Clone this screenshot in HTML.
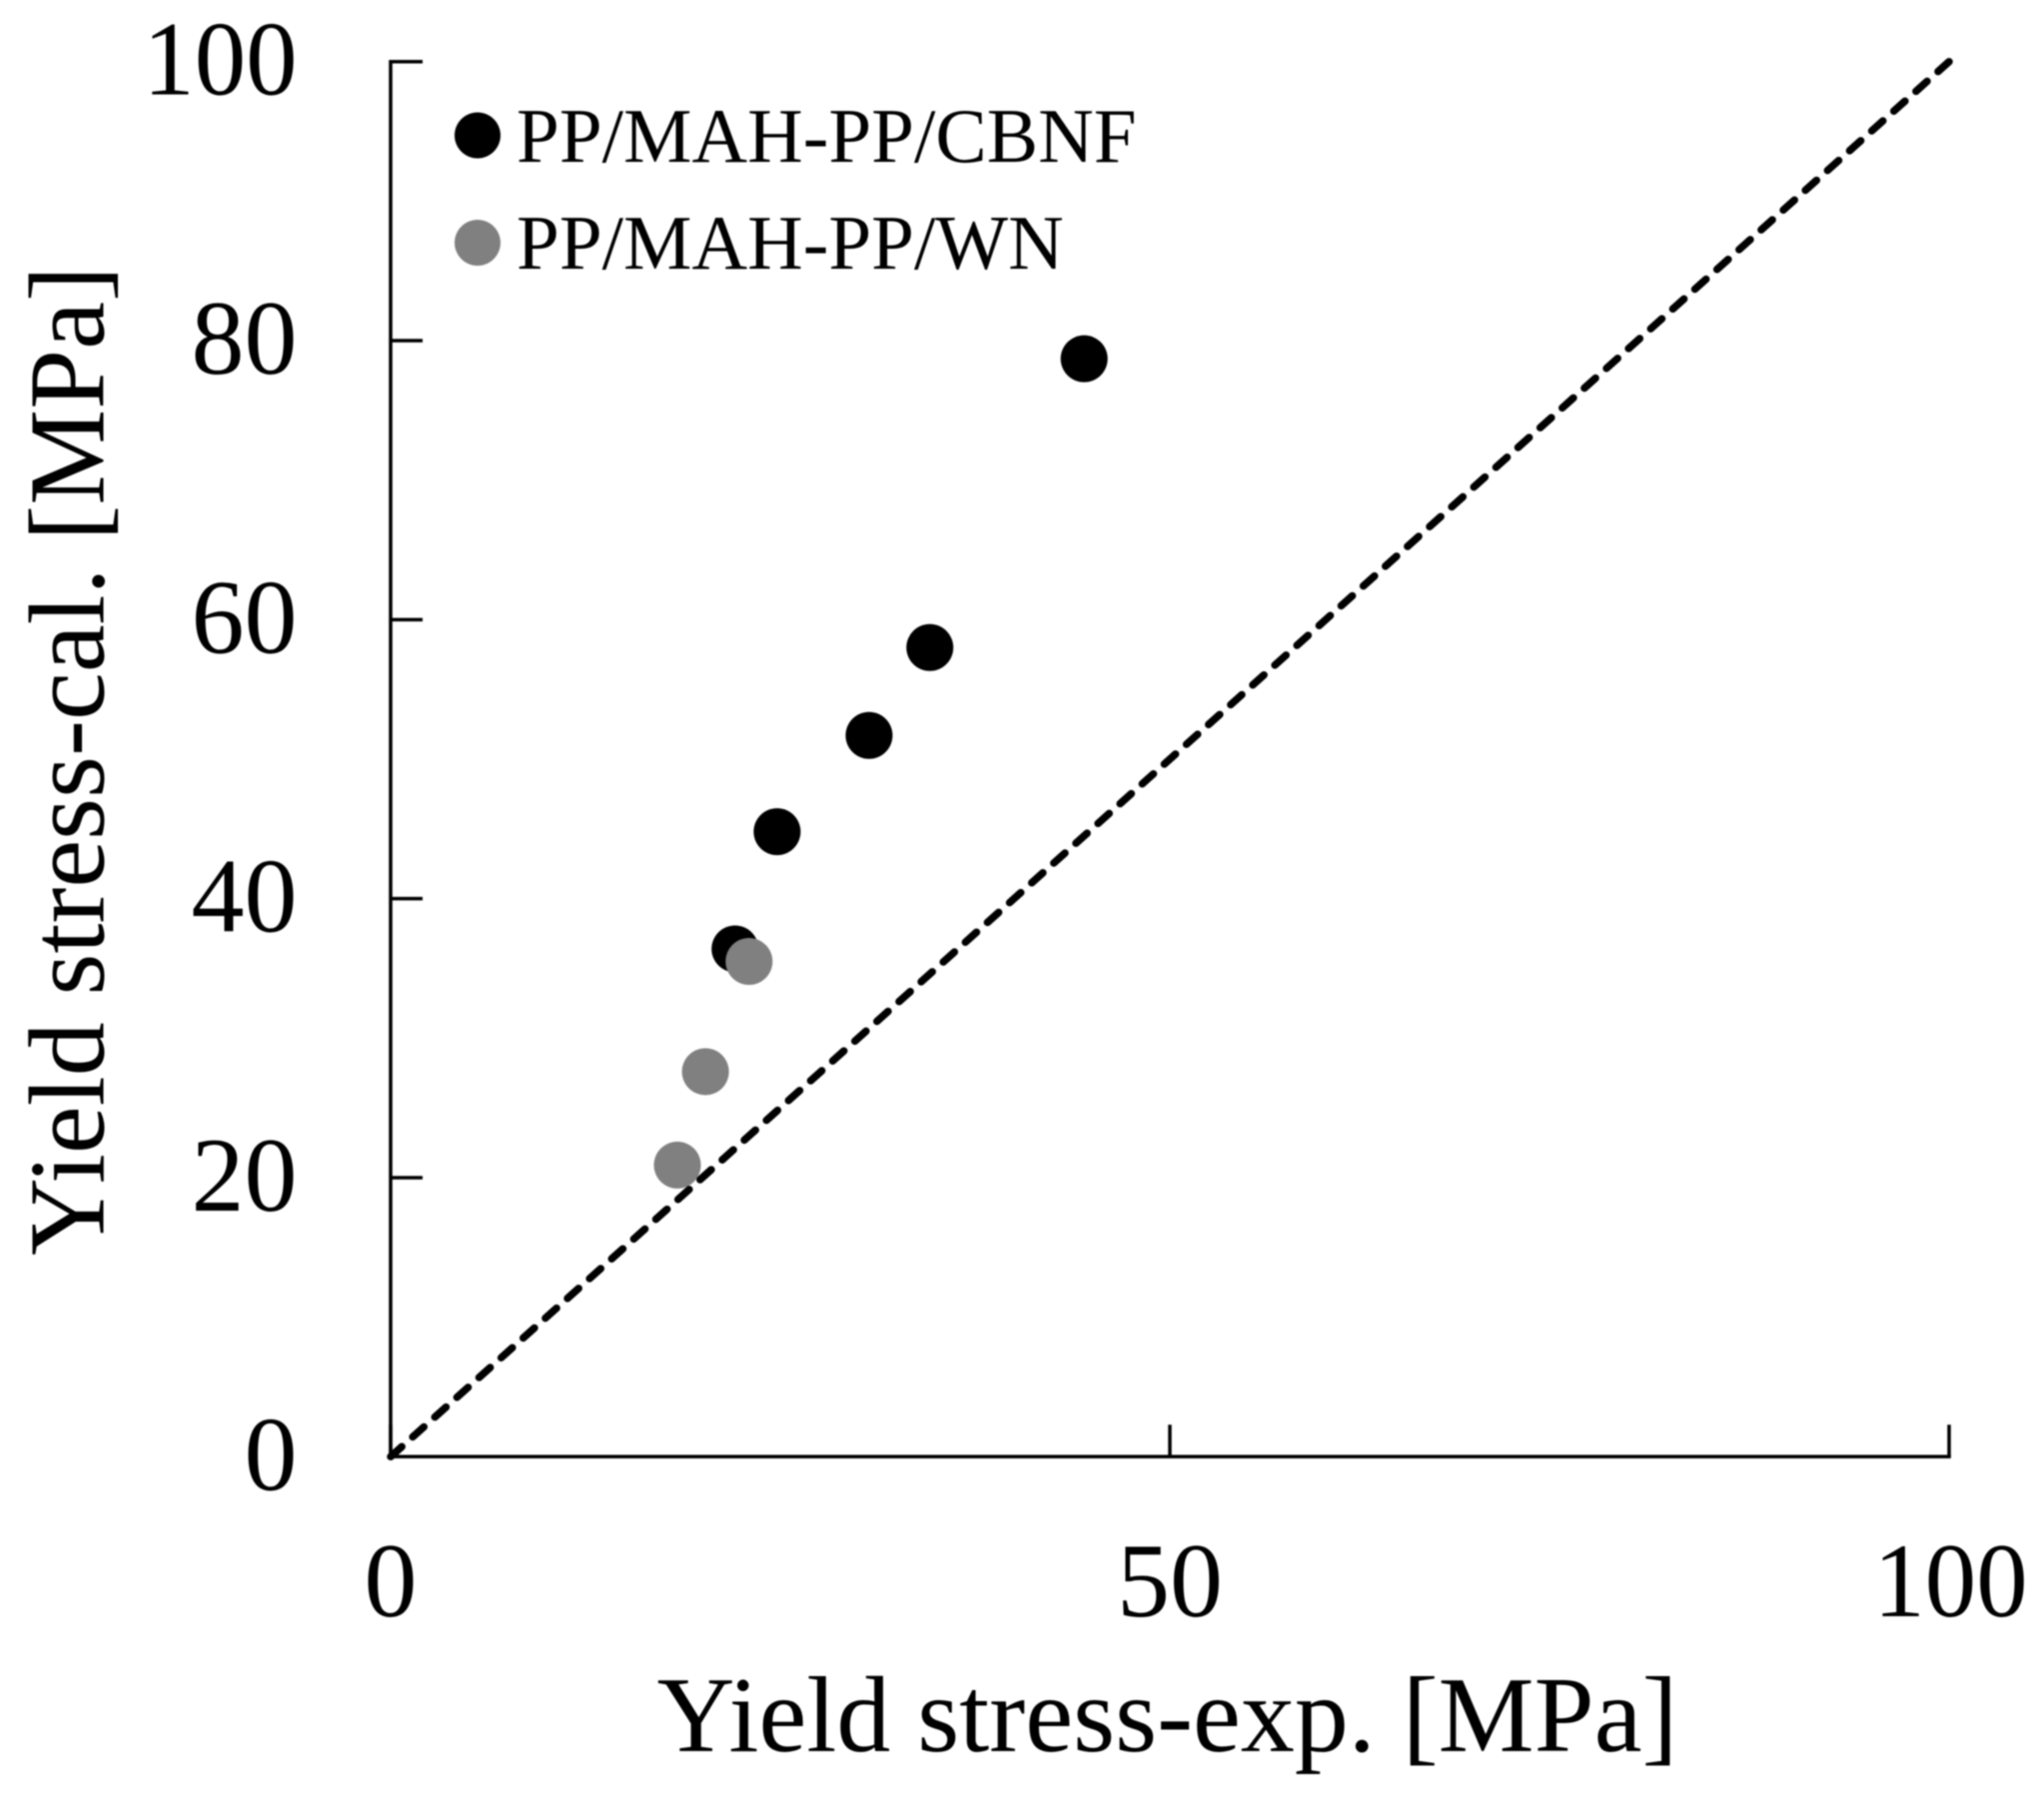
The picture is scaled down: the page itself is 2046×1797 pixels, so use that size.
<!DOCTYPE html>
<html lang="en">
<head>
<meta charset="utf-8">
<title>Yield stress calculated vs experimental</title>
<style>
html,body{margin:0;padding:0;background:#fff;}
body{width:2046px;height:1797px;overflow:hidden;}
svg{display:block;filter:blur(0.8px);}
text{font-family:"Liberation Serif",serif;fill:#000;}
</style>
</head>
<body>
<svg id="chart" xmlns="http://www.w3.org/2000/svg" width="2046" height="1797" viewBox="0 0 2046 1797">
  <rect x="0" y="0" width="2046" height="1797" fill="#fff"/>
  <g id="axes"></g>
  <g id="marks"></g>
  <g>
    <circle cx="478" cy="135.5" r="23" fill="#000"/>
    <text x="517" y="162" font-size="77">PP/MAH-PP/CBNF</text>
    <circle cx="478" cy="243" r="23" fill="#808080"/>
    <text x="517" y="269" font-size="77">PP/MAH-PP/WN</text>
  </g>
  <text x="1168.5" y="1753" font-size="107.9" text-anchor="middle">Yield stress-exp. [MPa]</text>
  <text transform="translate(103.5 761.5) rotate(-90)" font-size="107.8" text-anchor="middle">Yield stress-cal. [MPa]</text>
</svg>
<script>
const xTicks = [0, 50, 100];
const yTicks = [0, 20, 40, 60, 80, 100];
const diagonal = [0, 100];
const cbnfExp = [22.1, 24.8, 30.7, 34.6, 44.5];
const cbnfCal = [36.4, 44.8, 51.7, 58.0, 78.7];
const wnExp = [18.4, 20.2, 23.0];
const wnCal = [20.9, 27.6, 35.5];

const NS = 'http://www.w3.org/2000/svg';
const plotLeft = 391, plotRight = 1951, plotTop = 61.7, plotBottom = 1458.3;
const tickLen = 32;
const xScale = v => plotLeft + (v / 100) * (plotRight - plotLeft);
const yScale = v => plotBottom - (v / 100) * (plotBottom - plotTop);
const squeeze = t => (t >= 100 ? 0.97 : 1);
const axes = document.getElementById('axes');
const marks = document.getElementById('marks');

function make(tag, attrs, parent) {
  const el = document.createElementNS(NS, tag);
  for (const k in attrs) el.setAttribute(k, attrs[k]);
  parent.appendChild(el);
  return el;
}

const axisY = make('line', {x1: xScale(0), x2: xScale(0), y1: yScale(100), y2: yScale(0), stroke: '#000', 'stroke-width': 3.5, 'stroke-linecap': 'square'}, axes);



const axisX = make('line', {x1: xScale(0), x2: xScale(100), y1: yScale(0), y2: yScale(0), stroke: '#000', 'stroke-width': 3.5, 'stroke-linecap': 'square'}, axes);



yTicks.forEach(t => {
  const tick = make('line', {x1: xScale(0), x2: xScale(0) + tickLen, y1: yScale(t), y2: yScale(t), stroke: '#000', 'stroke-width': 3.5}, axes);
  
  
  const label = make('text', {transform: 'translate(297.5 ' + (yScale(t) + 33) + ') scale(' + squeeze(t) + ' 1)', 'font-size': 106, 'text-anchor': 'end'}, axes);
  label.textContent = t;
  
  
});

xTicks.forEach(t => {
  const tick = make('line', {x1: xScale(t), x2: xScale(t), y1: yScale(0), y2: yScale(0) - tickLen, stroke: '#000', 'stroke-width': 3.5}, axes);
  
  
  const label = make('text', {transform: 'translate(' + (xScale(t) + (t === 100 ? 1.5 : 0)) + ' 1618) scale(' + squeeze(t) + ' 1)', 'font-size': 106, 'text-anchor': 'middle'}, axes);
  label.textContent = t;
  
  
});

const refLine = make('line', {x1: xScale(diagonal[0]), y1: yScale(diagonal[0]), x2: xScale(diagonal[1]), y2: yScale(diagonal[1]), stroke: '#000', 'stroke-width': 7.5, 'stroke-dasharray': '15 14.7', 'stroke-linecap': 'round'}, marks);



cbnfExp.forEach((v, i) => {
  const pt = make('circle', {cx: xScale(v), cy: yScale(cbnfCal[i]), r: 23.5, fill: '#000'}, marks);
  
  
});

wnExp.forEach((v, i) => {
  const pt = make('circle', {cx: xScale(v), cy: yScale(wnCal[i]), r: 23.5, fill: '#808080'}, marks);
  
  
});
</script>
</body>
</html>
